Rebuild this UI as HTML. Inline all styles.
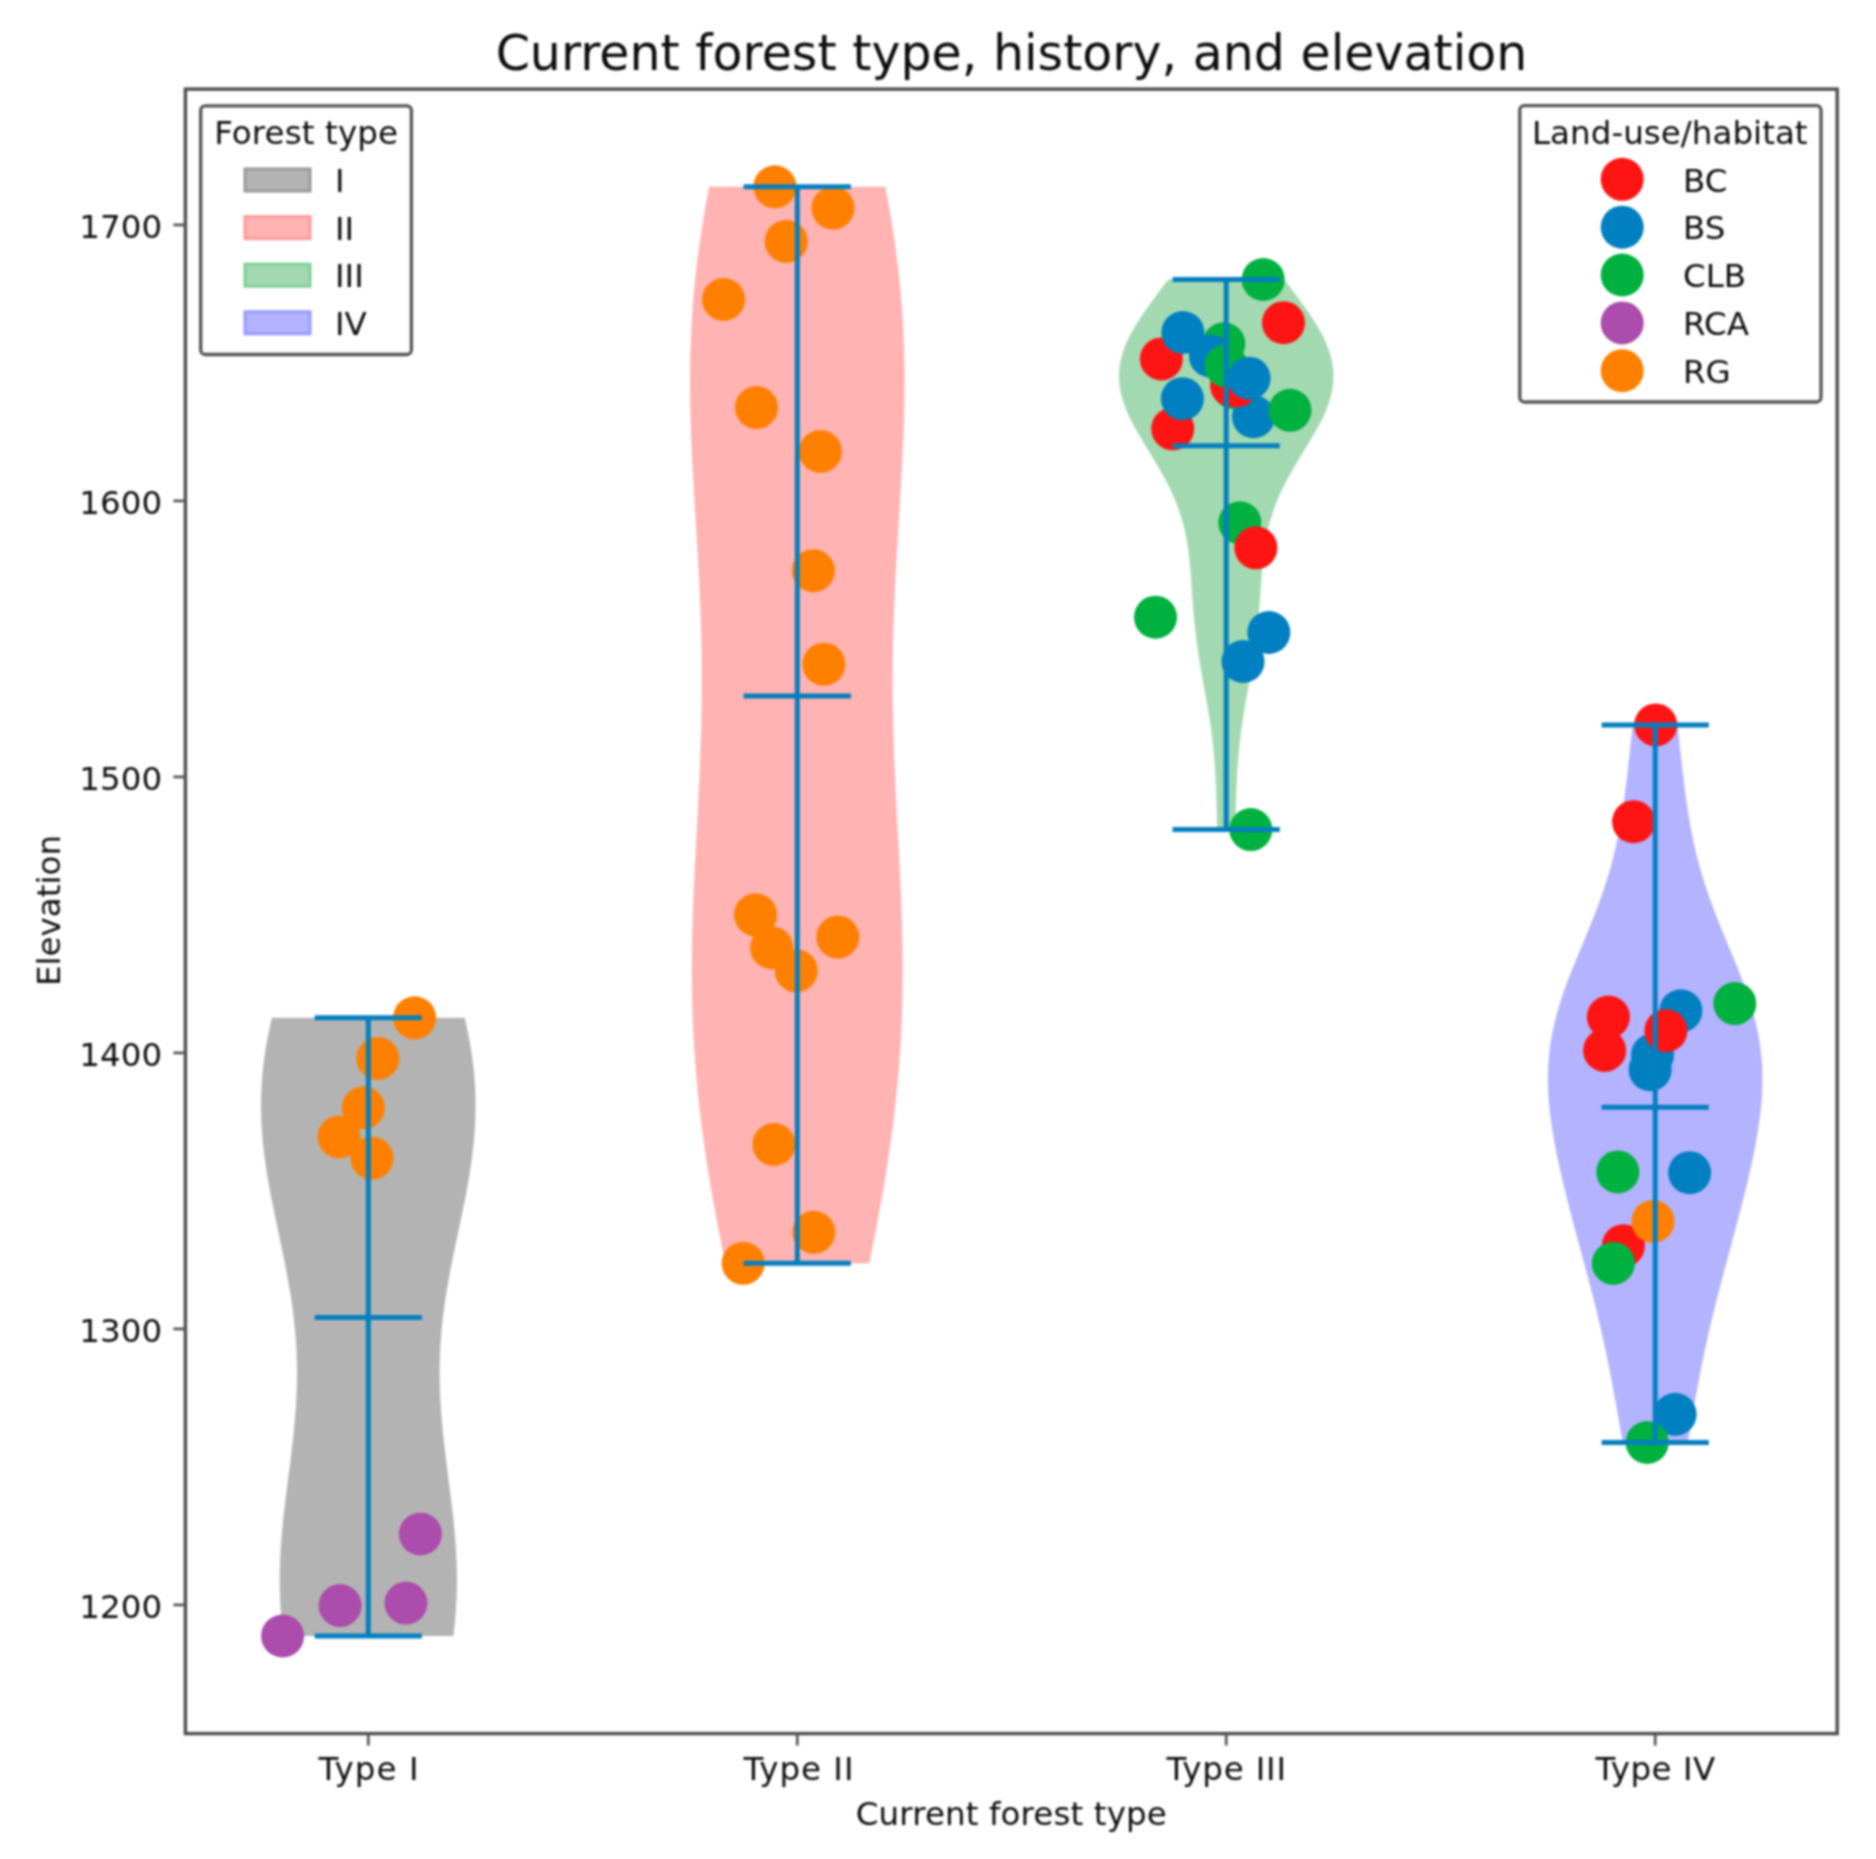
<!DOCTYPE html><html><head><meta charset="utf-8"><title>Current forest type, history, and elevation</title><style>html,body{margin:0;padding:0;background:#fff}</style></head><body><svg width="1876" height="1859" viewBox="0 0 1876 1859" style="display:block;filter:blur(0.9px)">
<rect width="1876" height="1859" fill="#fff"/>
<path d="M283.3,1636.0 L282.5,1629.8 L281.8,1623.5 L281.3,1617.3 L280.8,1611.0 L280.4,1604.8 L280.1,1598.5 L279.9,1592.3 L279.7,1586.0 L279.7,1579.8 L279.7,1573.6 L279.9,1567.3 L280.1,1561.1 L280.4,1554.8 L280.7,1548.6 L281.2,1542.3 L281.6,1536.1 L282.2,1529.8 L282.8,1523.6 L283.4,1517.4 L284.1,1511.1 L284.9,1504.9 L285.6,1498.6 L286.4,1492.4 L287.2,1486.1 L288.0,1479.9 L288.8,1473.6 L289.6,1467.4 L290.4,1461.2 L291.1,1454.9 L291.9,1448.7 L292.6,1442.4 L293.3,1436.2 L293.9,1429.9 L294.5,1423.7 L295.1,1417.4 L295.5,1411.2 L296.0,1405.0 L296.3,1398.7 L296.6,1392.5 L296.8,1386.2 L296.9,1380.0 L297.0,1373.7 L297.0,1367.5 L296.8,1361.2 L296.6,1355.0 L296.4,1348.8 L296.0,1342.5 L295.5,1336.3 L295.0,1330.0 L294.4,1323.8 L293.7,1317.5 L292.9,1311.3 L292.1,1305.0 L291.2,1298.8 L290.2,1292.6 L289.1,1286.3 L288.0,1280.1 L286.9,1273.8 L285.7,1267.6 L284.5,1261.3 L283.2,1255.1 L281.9,1248.8 L280.6,1242.6 L279.3,1236.4 L278.0,1230.1 L276.7,1223.9 L275.3,1217.6 L274.1,1211.4 L272.8,1205.1 L271.5,1198.9 L270.3,1192.6 L269.2,1186.4 L268.1,1180.2 L267.0,1173.9 L266.1,1167.7 L265.2,1161.4 L264.3,1155.2 L263.6,1148.9 L262.9,1142.7 L262.4,1136.4 L261.9,1130.2 L261.5,1124.0 L261.3,1117.7 L261.1,1111.5 L261.1,1105.2 L261.1,1099.0 L261.3,1092.7 L261.6,1086.5 L262.0,1080.2 L262.5,1074.0 L263.1,1067.8 L263.9,1061.5 L264.7,1055.3 L265.7,1049.0 L266.7,1042.8 L267.9,1036.5 L269.2,1030.3 L270.5,1024.0 L272.0,1017.8 L464.6,1017.8 L466.1,1024.0 L467.4,1030.3 L468.7,1036.5 L469.9,1042.8 L470.9,1049.0 L471.9,1055.3 L472.7,1061.5 L473.5,1067.8 L474.1,1074.0 L474.6,1080.2 L475.0,1086.5 L475.3,1092.7 L475.5,1099.0 L475.5,1105.2 L475.5,1111.5 L475.3,1117.7 L475.1,1124.0 L474.7,1130.2 L474.2,1136.4 L473.7,1142.7 L473.0,1148.9 L472.3,1155.2 L471.4,1161.4 L470.5,1167.7 L469.6,1173.9 L468.5,1180.2 L467.4,1186.4 L466.3,1192.6 L465.1,1198.9 L463.8,1205.1 L462.5,1211.4 L461.3,1217.6 L459.9,1223.9 L458.6,1230.1 L457.3,1236.4 L456.0,1242.6 L454.7,1248.8 L453.4,1255.1 L452.1,1261.3 L450.9,1267.6 L449.7,1273.8 L448.6,1280.1 L447.5,1286.3 L446.4,1292.6 L445.4,1298.8 L444.5,1305.0 L443.7,1311.3 L442.9,1317.5 L442.2,1323.8 L441.6,1330.0 L441.1,1336.3 L440.6,1342.5 L440.2,1348.8 L440.0,1355.0 L439.8,1361.2 L439.6,1367.5 L439.6,1373.7 L439.7,1380.0 L439.8,1386.2 L440.0,1392.5 L440.3,1398.7 L440.6,1405.0 L441.1,1411.2 L441.5,1417.4 L442.1,1423.7 L442.7,1429.9 L443.3,1436.2 L444.0,1442.4 L444.7,1448.7 L445.5,1454.9 L446.2,1461.2 L447.0,1467.4 L447.8,1473.6 L448.6,1479.9 L449.4,1486.1 L450.2,1492.4 L451.0,1498.6 L451.7,1504.9 L452.5,1511.1 L453.2,1517.4 L453.8,1523.6 L454.4,1529.8 L455.0,1536.1 L455.4,1542.3 L455.9,1548.6 L456.2,1554.8 L456.5,1561.1 L456.7,1567.3 L456.9,1573.6 L456.9,1579.8 L456.9,1586.0 L456.7,1592.3 L456.5,1598.5 L456.2,1604.8 L455.8,1611.0 L455.3,1617.3 L454.8,1623.5 L454.1,1629.8 L453.3,1636.0Z" fill="#b3b3b3"/>
<path d="M725.2,1263.3 L723.0,1252.4 L720.9,1241.6 L718.8,1230.7 L716.7,1219.8 L714.7,1208.9 L712.7,1198.1 L710.8,1187.2 L709.0,1176.3 L707.3,1165.4 L705.6,1154.6 L704.1,1143.7 L702.6,1132.8 L701.2,1121.9 L699.8,1111.1 L698.6,1100.2 L697.5,1089.3 L696.5,1078.4 L695.6,1067.6 L694.8,1056.7 L694.1,1045.8 L693.5,1035.0 L692.9,1024.1 L692.5,1013.2 L692.2,1002.3 L692.0,991.5 L691.9,980.6 L691.8,969.7 L691.9,958.8 L692.0,948.0 L692.2,937.1 L692.5,926.2 L692.8,915.3 L693.2,904.5 L693.6,893.6 L694.1,882.7 L694.6,871.8 L695.2,861.0 L695.8,850.1 L696.3,839.2 L696.9,828.4 L697.5,817.5 L698.0,806.6 L698.6,795.7 L699.1,784.9 L699.6,774.0 L700.1,763.1 L700.5,752.2 L700.8,741.4 L701.2,730.5 L701.4,719.6 L701.6,708.7 L701.7,697.9 L701.8,687.0 L701.8,676.1 L701.7,665.2 L701.6,654.4 L701.4,643.5 L701.1,632.6 L700.8,621.7 L700.4,610.9 L700.0,600.0 L699.5,589.1 L699.0,578.3 L698.4,567.4 L697.8,556.5 L697.2,545.6 L696.5,534.8 L695.9,523.9 L695.2,513.0 L694.5,502.1 L693.9,491.3 L693.3,480.4 L692.7,469.5 L692.1,458.6 L691.6,447.8 L691.2,436.9 L690.8,426.0 L690.5,415.1 L690.2,404.3 L690.1,393.4 L690.0,382.5 L690.1,371.7 L690.2,360.8 L690.5,349.9 L690.9,339.0 L691.4,328.2 L692.0,317.3 L692.7,306.4 L693.6,295.5 L694.6,284.7 L695.7,273.8 L697.0,262.9 L698.4,252.0 L699.9,241.2 L701.5,230.3 L703.3,219.4 L705.1,208.5 L707.1,197.7 L709.2,186.8 L885.3,186.8 L887.4,197.7 L889.4,208.5 L891.2,219.4 L893.0,230.3 L894.6,241.2 L896.1,252.0 L897.5,262.9 L898.8,273.8 L899.9,284.7 L900.9,295.5 L901.8,306.4 L902.5,317.3 L903.2,328.2 L903.7,339.0 L904.0,349.9 L904.3,360.8 L904.5,371.7 L904.5,382.5 L904.4,393.4 L904.3,404.3 L904.1,415.1 L903.7,426.0 L903.4,436.9 L902.9,447.8 L902.4,458.6 L901.8,469.5 L901.2,480.4 L900.6,491.3 L900.0,502.1 L899.3,513.0 L898.7,523.9 L898.0,534.8 L897.4,545.6 L896.7,556.5 L896.1,567.4 L895.6,578.3 L895.0,589.1 L894.5,600.0 L894.1,610.9 L893.7,621.7 L893.4,632.6 L893.1,643.5 L892.9,654.4 L892.8,665.2 L892.7,676.1 L892.7,687.0 L892.8,697.9 L892.9,708.7 L893.1,719.6 L893.4,730.5 L893.7,741.4 L894.0,752.2 L894.4,763.1 L894.9,774.0 L895.4,784.9 L895.9,795.7 L896.5,806.6 L897.0,817.5 L897.6,828.4 L898.2,839.2 L898.8,850.1 L899.3,861.0 L899.9,871.8 L900.4,882.7 L900.9,893.6 L901.3,904.5 L901.7,915.3 L902.0,926.2 L902.3,937.1 L902.5,948.0 L902.6,958.8 L902.7,969.7 L902.6,980.6 L902.5,991.5 L902.3,1002.3 L902.0,1013.2 L901.6,1024.1 L901.1,1035.0 L900.5,1045.8 L899.7,1056.7 L898.9,1067.6 L898.0,1078.4 L897.0,1089.3 L895.9,1100.2 L894.7,1111.1 L893.4,1121.9 L892.0,1132.8 L890.5,1143.7 L888.9,1154.6 L887.2,1165.4 L885.5,1176.3 L883.7,1187.2 L881.8,1198.1 L879.8,1208.9 L877.8,1219.8 L875.8,1230.7 L873.6,1241.6 L871.5,1252.4 L869.3,1263.3Z" fill="#ffb3b3"/>
<path d="M1217.3,829.6 L1217.1,824.0 L1216.9,818.5 L1216.8,812.9 L1216.6,807.4 L1216.4,801.8 L1216.3,796.3 L1216.1,790.7 L1215.8,785.1 L1215.6,779.6 L1215.3,774.0 L1215.0,768.5 L1214.6,762.9 L1214.2,757.4 L1213.7,751.8 L1213.1,746.3 L1212.5,740.7 L1211.8,735.1 L1211.1,729.6 L1210.3,724.0 L1209.5,718.5 L1208.6,712.9 L1207.7,707.4 L1206.7,701.8 L1205.7,696.2 L1204.7,690.7 L1203.7,685.1 L1202.7,679.6 L1201.7,674.0 L1200.8,668.5 L1199.8,662.9 L1198.9,657.3 L1198.1,651.8 L1197.3,646.2 L1196.5,640.7 L1195.8,635.1 L1195.1,629.6 L1194.5,624.0 L1194.0,618.5 L1193.5,612.9 L1193.1,607.3 L1192.7,601.8 L1192.3,596.2 L1191.9,590.7 L1191.5,585.1 L1191.2,579.6 L1190.8,574.0 L1190.3,568.4 L1189.8,562.9 L1189.2,557.3 L1188.5,551.8 L1187.8,546.2 L1186.8,540.7 L1185.8,535.1 L1184.6,529.5 L1183.2,524.0 L1181.6,518.4 L1179.9,512.9 L1177.9,507.3 L1175.8,501.8 L1173.4,496.2 L1170.9,490.6 L1168.2,485.1 L1165.3,479.5 L1162.3,474.0 L1159.1,468.4 L1155.8,462.9 L1152.5,457.3 L1149.1,451.8 L1145.7,446.2 L1142.3,440.6 L1139.1,435.1 L1135.9,429.5 L1132.9,424.0 L1130.1,418.4 L1127.5,412.9 L1125.2,407.3 L1123.2,401.7 L1121.6,396.2 L1120.3,390.6 L1119.5,385.1 L1119.0,379.5 L1119.0,374.0 L1119.4,368.4 L1120.2,362.8 L1121.4,357.3 L1123.1,351.7 L1125.1,346.2 L1127.5,340.6 L1130.2,335.1 L1133.2,329.5 L1136.5,324.0 L1140.1,318.4 L1143.8,312.8 L1147.7,307.3 L1151.7,301.7 L1155.8,296.2 L1159.9,290.6 L1164.0,285.1 L1168.2,279.5 L1284.3,279.5 L1288.4,285.1 L1292.5,290.6 L1296.7,296.2 L1300.8,301.7 L1304.8,307.3 L1308.7,312.8 L1312.4,318.4 L1315.9,324.0 L1319.2,329.5 L1322.3,335.1 L1325.0,340.6 L1327.4,346.2 L1329.4,351.7 L1331.0,357.3 L1332.3,362.8 L1333.1,368.4 L1333.5,374.0 L1333.4,379.5 L1333.0,385.1 L1332.1,390.6 L1330.8,396.2 L1329.2,401.7 L1327.2,407.3 L1324.9,412.9 L1322.4,418.4 L1319.6,424.0 L1316.5,429.5 L1313.4,435.1 L1310.1,440.6 L1306.7,446.2 L1303.3,451.8 L1300.0,457.3 L1296.6,462.9 L1293.3,468.4 L1290.2,474.0 L1287.1,479.5 L1284.3,485.1 L1281.5,490.6 L1279.0,496.2 L1276.7,501.8 L1274.5,507.3 L1272.6,512.9 L1270.8,518.4 L1269.2,524.0 L1267.9,529.5 L1266.6,535.1 L1265.6,540.7 L1264.7,546.2 L1263.9,551.8 L1263.2,557.3 L1262.6,562.9 L1262.1,568.4 L1261.7,574.0 L1261.3,579.6 L1260.9,585.1 L1260.5,590.7 L1260.2,596.2 L1259.8,601.8 L1259.4,607.3 L1258.9,612.9 L1258.4,618.5 L1257.9,624.0 L1257.3,629.6 L1256.7,635.1 L1255.9,640.7 L1255.2,646.2 L1254.4,651.8 L1253.5,657.3 L1252.6,662.9 L1251.7,668.5 L1250.7,674.0 L1249.7,679.6 L1248.7,685.1 L1247.7,690.7 L1246.7,696.2 L1245.7,701.8 L1244.8,707.4 L1243.8,712.9 L1242.9,718.5 L1242.1,724.0 L1241.3,729.6 L1240.6,735.1 L1239.9,740.7 L1239.3,746.3 L1238.8,751.8 L1238.3,757.4 L1237.9,762.9 L1237.5,768.5 L1237.1,774.0 L1236.9,779.6 L1236.6,785.1 L1236.4,790.7 L1236.2,796.3 L1236.0,801.8 L1235.8,807.4 L1235.7,812.9 L1235.5,818.5 L1235.3,824.0 L1235.2,829.6Z" fill="#a3d9b1"/>
<path d="M1622.7,1442.5 L1621.4,1435.3 L1620.1,1428.0 L1618.9,1420.8 L1617.6,1413.5 L1616.3,1406.3 L1615.0,1399.0 L1613.7,1391.8 L1612.4,1384.5 L1611.0,1377.3 L1609.6,1370.0 L1608.1,1362.8 L1606.6,1355.5 L1605.1,1348.3 L1603.5,1341.0 L1601.9,1333.8 L1600.3,1326.5 L1598.5,1319.3 L1596.8,1312.0 L1595.0,1304.8 L1593.2,1297.5 L1591.3,1290.3 L1589.4,1283.0 L1587.5,1275.8 L1585.5,1268.5 L1583.6,1261.3 L1581.6,1254.0 L1579.7,1246.8 L1577.7,1239.5 L1575.8,1232.3 L1573.8,1225.0 L1571.9,1217.8 L1570.0,1210.5 L1568.2,1203.3 L1566.3,1196.1 L1564.5,1188.8 L1562.8,1181.6 L1561.1,1174.3 L1559.5,1167.1 L1557.9,1159.8 L1556.4,1152.6 L1555.0,1145.3 L1553.7,1138.1 L1552.5,1130.8 L1551.4,1123.6 L1550.4,1116.3 L1549.6,1109.1 L1548.9,1101.8 L1548.4,1094.6 L1548.1,1087.3 L1547.9,1080.1 L1548.0,1072.8 L1548.3,1065.6 L1548.8,1058.3 L1549.6,1051.1 L1550.5,1043.8 L1551.7,1036.6 L1553.1,1029.3 L1554.8,1022.1 L1556.6,1014.8 L1558.7,1007.6 L1560.9,1000.3 L1563.4,993.1 L1565.9,985.8 L1568.6,978.6 L1571.5,971.3 L1574.4,964.1 L1577.3,956.9 L1580.3,949.6 L1583.3,942.4 L1586.4,935.1 L1589.3,927.9 L1592.2,920.6 L1595.1,913.4 L1597.9,906.1 L1600.5,898.9 L1603.0,891.6 L1605.5,884.4 L1607.7,877.1 L1609.9,869.9 L1611.9,862.6 L1613.7,855.4 L1615.5,848.1 L1617.1,840.9 L1618.6,833.6 L1619.9,826.4 L1621.2,819.1 L1622.4,811.9 L1623.5,804.6 L1624.5,797.4 L1625.4,790.1 L1626.3,782.9 L1627.2,775.6 L1628.0,768.4 L1628.8,761.1 L1629.7,753.9 L1630.4,746.6 L1631.2,739.4 L1632.0,732.1 L1632.9,724.9 L1677.5,724.9 L1678.3,732.1 L1679.1,739.4 L1679.9,746.6 L1680.7,753.9 L1681.5,761.1 L1682.3,768.4 L1683.2,775.6 L1684.0,782.9 L1684.9,790.1 L1685.9,797.4 L1686.9,804.6 L1688.0,811.9 L1689.2,819.1 L1690.4,826.4 L1691.8,833.6 L1693.3,840.9 L1694.9,848.1 L1696.6,855.4 L1698.5,862.6 L1700.5,869.9 L1702.6,877.1 L1704.9,884.4 L1707.3,891.6 L1709.9,898.9 L1712.5,906.1 L1715.3,913.4 L1718.1,920.6 L1721.0,927.9 L1724.0,935.1 L1727.0,942.4 L1730.0,949.6 L1733.0,956.9 L1736.0,964.1 L1738.9,971.3 L1741.7,978.6 L1744.4,985.8 L1747.0,993.1 L1749.4,1000.3 L1751.7,1007.6 L1753.7,1014.8 L1755.6,1022.1 L1757.2,1029.3 L1758.6,1036.6 L1759.8,1043.8 L1760.8,1051.1 L1761.5,1058.3 L1762.1,1065.6 L1762.3,1072.8 L1762.4,1080.1 L1762.3,1087.3 L1762.0,1094.6 L1761.5,1101.8 L1760.8,1109.1 L1760.0,1116.3 L1759.0,1123.6 L1757.9,1130.8 L1756.7,1138.1 L1755.4,1145.3 L1754.0,1152.6 L1752.5,1159.8 L1750.9,1167.1 L1749.2,1174.3 L1747.6,1181.6 L1745.8,1188.8 L1744.0,1196.1 L1742.2,1203.3 L1740.3,1210.5 L1738.4,1217.8 L1736.5,1225.0 L1734.6,1232.3 L1732.6,1239.5 L1730.7,1246.8 L1728.7,1254.0 L1726.8,1261.3 L1724.8,1268.5 L1722.9,1275.8 L1721.0,1283.0 L1719.1,1290.3 L1717.2,1297.5 L1715.4,1304.8 L1713.6,1312.0 L1711.8,1319.3 L1710.1,1326.5 L1708.4,1333.8 L1706.8,1341.0 L1705.2,1348.3 L1703.7,1355.5 L1702.2,1362.8 L1700.8,1370.0 L1699.4,1377.3 L1698.0,1384.5 L1696.7,1391.8 L1695.3,1399.0 L1694.0,1406.3 L1692.8,1413.5 L1691.5,1420.8 L1690.2,1428.0 L1689.0,1435.3 L1687.7,1442.5Z" fill="#b3b3ff"/>
<circle cx="414.6" cy="1017.8" r="21.5" fill="#ff8000"/>
<circle cx="377.8" cy="1058.4" r="21.5" fill="#ff8000"/>
<circle cx="339.1" cy="1136.9" r="21.5" fill="#ff8000"/>
<circle cx="363.3" cy="1107.8" r="21.5" fill="#ff8000"/>
<circle cx="372.0" cy="1158.2" r="21.5" fill="#ff8000"/>
<circle cx="420.4" cy="1534.0" r="21.5" fill="#ac4cac"/>
<circle cx="340.1" cy="1605.6" r="21.5" fill="#ac4cac"/>
<circle cx="405.9" cy="1603.1" r="21.5" fill="#ac4cac"/>
<circle cx="282.6" cy="1636.0" r="21.5" fill="#ac4cac"/>
<circle cx="774.9" cy="186.8" r="21.5" fill="#ff8000"/>
<circle cx="833.0" cy="208.1" r="21.5" fill="#ff8000"/>
<circle cx="786.2" cy="241.4" r="21.5" fill="#ff8000"/>
<circle cx="723.6" cy="299.5" r="21.5" fill="#ff8000"/>
<circle cx="756.5" cy="407.6" r="21.5" fill="#ff8000"/>
<circle cx="820.4" cy="451.5" r="21.5" fill="#ff8000"/>
<circle cx="813.3" cy="570.7" r="21.5" fill="#ff8000"/>
<circle cx="823.9" cy="664.2" r="21.5" fill="#ff8000"/>
<circle cx="755.6" cy="914.8" r="21.5" fill="#ff8000"/>
<circle cx="837.8" cy="937.1" r="21.5" fill="#ff8000"/>
<circle cx="771.7" cy="947.7" r="21.5" fill="#ff8000"/>
<circle cx="796.2" cy="970.8" r="21.5" fill="#ff8000"/>
<circle cx="773.9" cy="1144.5" r="21.5" fill="#ff8000"/>
<circle cx="813.8" cy="1232.3" r="21.5" fill="#ff8000"/>
<circle cx="743.2" cy="1263.3" r="21.5" fill="#ff8000"/>
<circle cx="1263.2" cy="279.5" r="21.5" fill="#00b140"/>
<circle cx="1283.5" cy="322.7" r="21.5" fill="#ff1414"/>
<circle cx="1161.4" cy="358.9" r="21.5" fill="#ff1414"/>
<circle cx="1182.9" cy="332.5" r="21.5" fill="#0080c0"/>
<circle cx="1223.8" cy="343.8" r="21.5" fill="#00b140"/>
<circle cx="1210.4" cy="356.0" r="21.5" fill="#0080c0"/>
<circle cx="1233.6" cy="387.7" r="21.5" fill="#00b140"/>
<circle cx="1253.5" cy="416.7" r="21.5" fill="#0080c0"/>
<circle cx="1231.5" cy="385.3" r="21.5" fill="#ff1414"/>
<circle cx="1236.5" cy="385.8" r="21.5" fill="#ff1414"/>
<circle cx="1226.0" cy="365.8" r="21.5" fill="#00b140"/>
<circle cx="1249.1" cy="378.2" r="21.5" fill="#0080c0"/>
<circle cx="1290.0" cy="410.3" r="21.5" fill="#00b140"/>
<circle cx="1172.7" cy="428.8" r="21.5" fill="#ff1414"/>
<circle cx="1182.4" cy="398.7" r="21.5" fill="#0080c0"/>
<circle cx="1239.8" cy="522.8" r="21.5" fill="#00b140"/>
<circle cx="1255.9" cy="547.8" r="21.5" fill="#ff1414"/>
<circle cx="1155.5" cy="617.2" r="21.5" fill="#00b140"/>
<circle cx="1268.8" cy="632.5" r="21.5" fill="#0080c0"/>
<circle cx="1243.0" cy="661.5" r="21.5" fill="#0080c0"/>
<circle cx="1250.8" cy="829.6" r="21.5" fill="#00b140"/>
<circle cx="1655.7" cy="724.9" r="21.5" fill="#ff1414"/>
<circle cx="1633.6" cy="821.7" r="21.5" fill="#ff1414"/>
<circle cx="1608.4" cy="1017.0" r="21.5" fill="#ff1414"/>
<circle cx="1604.6" cy="1050.4" r="21.5" fill="#ff1414"/>
<circle cx="1680.9" cy="1010.8" r="21.5" fill="#0080c0"/>
<circle cx="1652.5" cy="1054.9" r="21.5" fill="#0080c0"/>
<circle cx="1650.1" cy="1069.7" r="21.5" fill="#0080c0"/>
<circle cx="1665.9" cy="1030.7" r="21.5" fill="#ff1414"/>
<circle cx="1734.8" cy="1003.6" r="21.5" fill="#00b140"/>
<circle cx="1617.8" cy="1171.9" r="21.5" fill="#00b140"/>
<circle cx="1689.6" cy="1172.7" r="21.5" fill="#0080c0"/>
<circle cx="1623.4" cy="1245.7" r="21.5" fill="#ff1414"/>
<circle cx="1653.0" cy="1221.5" r="21.5" fill="#ff8000"/>
<circle cx="1613.3" cy="1263.4" r="21.5" fill="#00b140"/>
<circle cx="1675.1" cy="1414.3" r="21.5" fill="#0080c0"/>
<circle cx="1647.2" cy="1442.5" r="21.5" fill="#00b140"/>
<g stroke="#047fbf" stroke-width="5" fill="none">
<line x1="368.3" y1="1017.8" x2="368.3" y2="1636.0"/>
<line x1="314.7" y1="1017.8" x2="421.9" y2="1017.8"/>
<line x1="314.7" y1="1636.0" x2="421.9" y2="1636.0"/>
<line x1="314.7" y1="1317.5" x2="421.9" y2="1317.5"/>
</g>
<g stroke="#047fbf" stroke-width="5" fill="none">
<line x1="797.3" y1="186.8" x2="797.3" y2="1263.3"/>
<line x1="743.6" y1="186.8" x2="850.9" y2="186.8"/>
<line x1="743.6" y1="1263.3" x2="850.9" y2="1263.3"/>
<line x1="743.6" y1="696.0" x2="850.9" y2="696.0"/>
</g>
<g stroke="#047fbf" stroke-width="5" fill="none">
<line x1="1226.2" y1="279.5" x2="1226.2" y2="829.6"/>
<line x1="1172.6" y1="279.5" x2="1279.8" y2="279.5"/>
<line x1="1172.6" y1="829.6" x2="1279.8" y2="829.6"/>
<line x1="1172.6" y1="445.8" x2="1279.8" y2="445.8"/>
</g>
<g stroke="#047fbf" stroke-width="5" fill="none">
<line x1="1655.2" y1="724.9" x2="1655.2" y2="1442.5"/>
<line x1="1601.6" y1="724.9" x2="1708.8" y2="724.9"/>
<line x1="1601.6" y1="1442.5" x2="1708.8" y2="1442.5"/>
<line x1="1601.6" y1="1107.2" x2="1708.8" y2="1107.2"/>
</g>
<rect x="185.4" y="89.1" width="1651.8" height="1644.5" fill="none" stroke="#4d4d4d" stroke-width="3.4"/>
<line x1="173.4" y1="1604.9" x2="185.4" y2="1604.9" stroke="#555" stroke-width="2.7"/>
<text x="79.25" y="1617.7" font-family="DejaVu Sans, Liberation Sans, sans-serif" font-size="32.5" fill="#0d0d0d" letter-spacing="0.098" >1200</text>
<line x1="173.4" y1="1328.9" x2="185.4" y2="1328.9" stroke="#555" stroke-width="2.7"/>
<text x="79.25" y="1341.7" font-family="DejaVu Sans, Liberation Sans, sans-serif" font-size="32.5" fill="#0d0d0d" letter-spacing="0.098" >1300</text>
<line x1="173.4" y1="1052.9" x2="185.4" y2="1052.9" stroke="#555" stroke-width="2.7"/>
<text x="79.25" y="1065.7" font-family="DejaVu Sans, Liberation Sans, sans-serif" font-size="32.5" fill="#0d0d0d" letter-spacing="0.098" >1400</text>
<line x1="173.4" y1="776.9" x2="185.4" y2="776.9" stroke="#555" stroke-width="2.7"/>
<text x="79.25" y="789.7" font-family="DejaVu Sans, Liberation Sans, sans-serif" font-size="32.5" fill="#0d0d0d" letter-spacing="0.098" >1500</text>
<line x1="173.4" y1="500.9" x2="185.4" y2="500.9" stroke="#555" stroke-width="2.7"/>
<text x="79.25" y="513.7" font-family="DejaVu Sans, Liberation Sans, sans-serif" font-size="32.5" fill="#0d0d0d" letter-spacing="0.098" >1600</text>
<line x1="173.4" y1="224.9" x2="185.4" y2="224.9" stroke="#555" stroke-width="2.7"/>
<text x="79.25" y="237.7" font-family="DejaVu Sans, Liberation Sans, sans-serif" font-size="32.5" fill="#0d0d0d" letter-spacing="0.098" >1700</text>
<line x1="368.3" y1="1733.6" x2="368.3" y2="1745.6" stroke="#555" stroke-width="2.7"/>
<text x="318.62" y="1780.0" font-family="DejaVu Sans, Liberation Sans, sans-serif" font-size="32.5" fill="#0d0d0d" letter-spacing="1.059" >Type I</text>
<line x1="797.3" y1="1733.6" x2="797.3" y2="1745.6" stroke="#555" stroke-width="2.7"/>
<text x="743.43" y="1780.0" font-family="DejaVu Sans, Liberation Sans, sans-serif" font-size="32.5" fill="#0d0d0d" letter-spacing="0.985" >Type II</text>
<line x1="1226.2" y1="1733.6" x2="1226.2" y2="1745.6" stroke="#555" stroke-width="2.7"/>
<text x="1166.53" y="1780.0" font-family="DejaVu Sans, Liberation Sans, sans-serif" font-size="32.5" fill="#0d0d0d" letter-spacing="0.832" >Type III</text>
<line x1="1655.2" y1="1733.6" x2="1655.2" y2="1745.6" stroke="#555" stroke-width="2.7"/>
<text x="1595.42" y="1780.0" font-family="DejaVu Sans, Liberation Sans, sans-serif" font-size="32.5" fill="#0d0d0d" letter-spacing="0.502" >Type IV</text>
<text x="855.77" y="1825.4" font-family="DejaVu Sans, Liberation Sans, sans-serif" font-size="32.5" fill="#0d0d0d" letter-spacing="0.112" >Current forest type</text>
<text transform="translate(60.2,910.5) rotate(-90)" font-family="DejaVu Sans, Liberation Sans, sans-serif" font-size="32.5" fill="#0d0d0d" text-anchor="middle">Elevation</text>
<text x="495.65" y="70.3" font-family="DejaVu Sans, Liberation Sans, sans-serif" font-size="49.0" fill="#0d0d0d" letter-spacing="0.013" >Current forest type, history, and elevation</text>
<rect x="200.7" y="105.8" width="210.7" height="248.7" rx="4.5" fill="#fff" stroke="#555" stroke-width="3.3"/>
<text x="214.17" y="144.1" font-family="DejaVu Sans, Liberation Sans, sans-serif" font-size="32.5" fill="#0d0d0d" letter-spacing="0.123" >Forest type</text>
<rect x="245" y="169.0" width="65" height="22" fill="#b3b3b3" stroke="#999999" stroke-width="3"/>
<text x="335" y="192.0" font-family="DejaVu Sans, Liberation Sans, sans-serif" font-size="32.5" fill="#0d0d0d">I</text>
<rect x="245" y="216.6" width="65" height="22" fill="#ffb3b3" stroke="#ff9999" stroke-width="3"/>
<text x="335" y="239.6" font-family="DejaVu Sans, Liberation Sans, sans-serif" font-size="32.5" fill="#0d0d0d">II</text>
<rect x="245" y="264.2" width="65" height="22" fill="#a3d9b1" stroke="#7fcf95" stroke-width="3"/>
<text x="335" y="287.2" font-family="DejaVu Sans, Liberation Sans, sans-serif" font-size="32.5" fill="#0d0d0d">III</text>
<rect x="245" y="311.8" width="65" height="22" fill="#b3b3ff" stroke="#9999ff" stroke-width="3"/>
<text x="335" y="334.8" font-family="DejaVu Sans, Liberation Sans, sans-serif" font-size="32.5" fill="#0d0d0d">IV</text>
<rect x="1519.8" y="105.7" width="301.2" height="296.3" rx="4.5" fill="#fff" stroke="#555" stroke-width="3.3"/>
<text x="1531.98" y="144.2" font-family="DejaVu Sans, Liberation Sans, sans-serif" font-size="32.5" fill="#0d0d0d" letter-spacing="0.041" >Land-use/habitat</text>
<circle cx="1622.2" cy="179.3" r="21.5" fill="#ff1414"/>
<text x="1683" y="191.5" font-family="DejaVu Sans, Liberation Sans, sans-serif" font-size="32.5" fill="#0d0d0d">BC</text>
<circle cx="1622.2" cy="227.2" r="21.5" fill="#0080c0"/>
<text x="1683" y="239.3" font-family="DejaVu Sans, Liberation Sans, sans-serif" font-size="32.5" fill="#0d0d0d">BS</text>
<circle cx="1622.2" cy="275.0" r="21.5" fill="#00b140"/>
<text x="1683" y="287.2" font-family="DejaVu Sans, Liberation Sans, sans-serif" font-size="32.5" fill="#0d0d0d">CLB</text>
<circle cx="1622.2" cy="322.9" r="21.5" fill="#ac4cac"/>
<text x="1683" y="335.1" font-family="DejaVu Sans, Liberation Sans, sans-serif" font-size="32.5" fill="#0d0d0d">RCA</text>
<circle cx="1622.2" cy="370.7" r="21.5" fill="#ff8000"/>
<text x="1683" y="382.9" font-family="DejaVu Sans, Liberation Sans, sans-serif" font-size="32.5" fill="#0d0d0d">RG</text>
</svg></body></html>
